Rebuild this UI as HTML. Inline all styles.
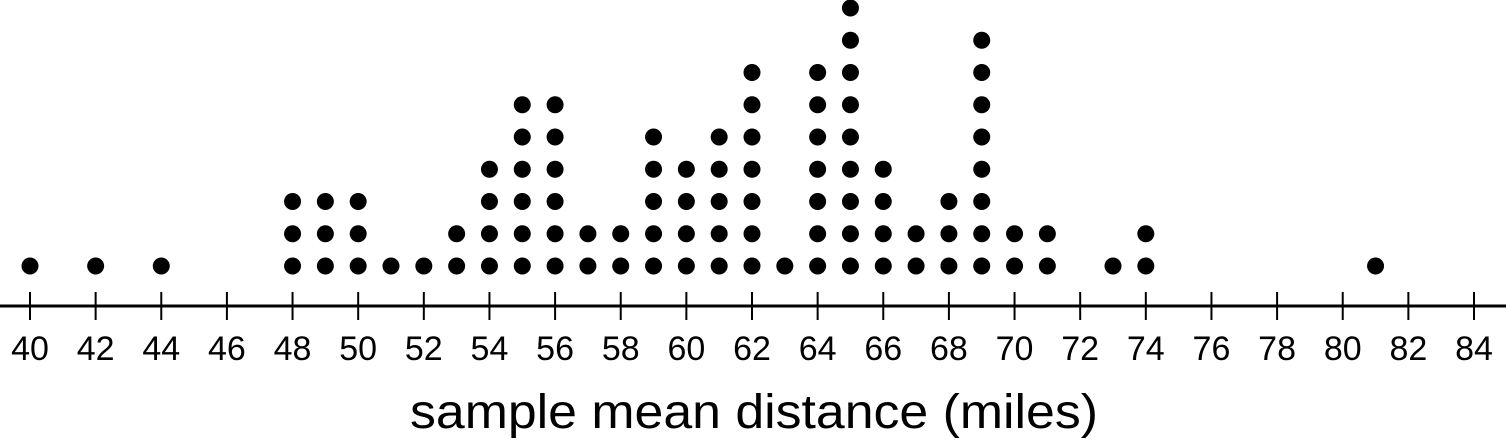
<!DOCTYPE html>
<html>
<head>
<meta charset="utf-8">
<style>
  html, body { margin: 0; padding: 0; background: #fff; }
  svg { display: block; }
  text { font-family: "Liberation Sans", "DejaVu Sans", sans-serif; fill: #000; }
</style>
</head>
<body>
<svg id="chart" width="1506" height="447" viewBox="0 0 1506 447" xmlns="http://www.w3.org/2000/svg">
  <line x1="0" y1="306" x2="1506" y2="306" stroke="#000" stroke-width="3"/>
  <g id="ticks"></g>
  <g id="dots"></g>
  <text x="410" y="428" font-size="48" textLength="688" lengthAdjust="spacingAndGlyphs">sample mean distance (miles)</text>
</svg>
<script>
const values = [40,42,44,48,49,50,51,52,53,54,55,56,57,58,59,60,61,62,63,64,65,66,67,68,69,70,71,73,74,81];
const counts = [1,1,1,3,3,3,1,1,2,4,6,6,2,2,5,4,5,7,1,7,9,4,2,3,8,2,2,1,2,1];
const tickValues = [40,42,44,46,48,50,52,54,56,58,60,62,64,66,68,70,72,74,76,78,80,82,84];

const NS = "http://www.w3.org/2000/svg";
function xScale(v) { return 30 + (v - 40) * (1474 - 30) / 44; }
function yStack(i) { return 266 - i * 32.25; }

const tg = document.getElementById("ticks");
tickValues.forEach(function(t) {
  const l = document.createElementNS(NS, "line");
  l.setAttribute("x1", xScale(t)); l.setAttribute("x2", xScale(t));
  l.setAttribute("y1", 292); l.setAttribute("y2", 320);
  l.setAttribute("stroke", "#000"); l.setAttribute("stroke-width", 2);
  
  
  tg.appendChild(l);
  const tx = document.createElementNS(NS, "text");
  tx.setAttribute("x", xScale(t)); tx.setAttribute("y", 360);
  tx.setAttribute("text-anchor", "middle"); tx.setAttribute("font-size", "34");
  tx.textContent = t;
  
  
  tg.appendChild(tx);
});

const dg = document.getElementById("dots");
values.forEach(function(v, k) {
  for (let i = 0; i < counts[k]; i++) {
    const c = document.createElementNS(NS, "circle");
    c.setAttribute("cx", xScale(v)); c.setAttribute("cy", yStack(i));
    c.setAttribute("r", 8.5); c.setAttribute("fill", "#000");
    
    
    dg.appendChild(c);
  }
});
</script>
</body>
</html>
